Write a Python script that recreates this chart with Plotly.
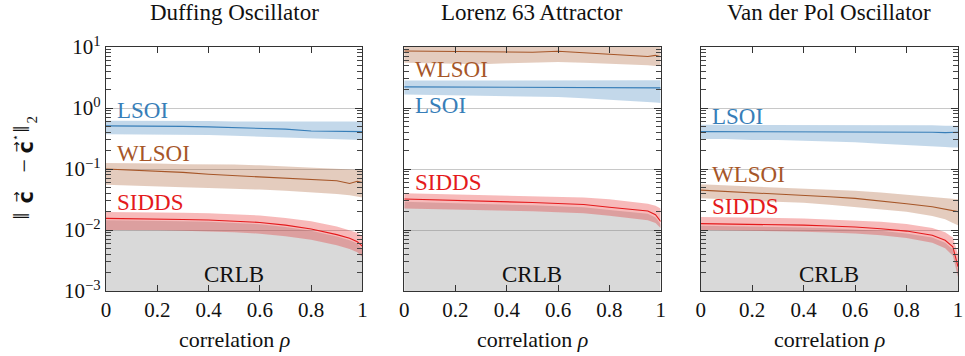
import plotly.graph_objects as go

rho = [0, 0.1, 0.2, 0.3, 0.4, 0.5, 0.6, 0.7, 0.8, 0.9, 0.95, 0.98, 1.0]

titles = ["Duffing Oscillator", "Lorenz 63 Attractor", "Van der Pol Oscillator"]
xtick_vals = [0, 0.2, 0.4, 0.6, 0.8, 1]
xtick_text = ["0", "0.2", "0.4", "0.6", "0.8", "1"]
ytick_vals = [1e-3, 1e-2, 1e-1, 1e0, 1e1]
ytick_text = ["10<sup>−3</sup>", "10<sup>−2</sup>", "10<sup>−1</sup>", "10<sup>0</sup>", "10<sup>1</sup>"]
yminor_vals = [m * 10.0 ** e for e in range(-3, 1) for m in range(2, 10)]

# Duffing
duf_lsoi = [0.51, 0.51, 0.50, 0.50, 0.49, 0.48, 0.47, 0.45, 0.42, 0.42, 0.42, 0.41, 0.41]
duf_lsoi_hi = [0.62, 0.62, 0.61, 0.61, 0.61, 0.60, 0.60, 0.60, 0.60, 0.60, 0.60, 0.60, 0.60]
duf_lsoi_lo = [0.37, 0.37, 0.37, 0.36, 0.36, 0.35, 0.34, 0.33, 0.32, 0.31, 0.30, 0.30, 0.30]
duf_wlsoi = [0.100, 0.096, 0.093, 0.088, 0.082, 0.078, 0.074, 0.070, 0.067, 0.064, 0.058, 0.063, 0.060]
duf_wlsoi_hi = [0.125, 0.125, 0.123, 0.120, 0.120, 0.118, 0.115, 0.110, 0.105, 0.100, 0.098, 0.097, 0.096]
duf_wlsoi_lo = [0.055, 0.053, 0.052, 0.050, 0.049, 0.048, 0.046, 0.044, 0.042, 0.039, 0.037, 0.035, 0.034]
duf_sidds = [0.0155, 0.0154, 0.0152, 0.0149, 0.0146, 0.0141, 0.0133, 0.0120, 0.0104, 0.0084, 0.0073, 0.0064, 0.0054]
duf_sidds_hi = [0.0198, 0.0197, 0.0195, 0.0192, 0.0188, 0.0182, 0.0173, 0.0158, 0.0139, 0.0114, 0.0100, 0.0090, 0.0080]
duf_sidds_lo = [0.0100, 0.0100, 0.0099, 0.0097, 0.0095, 0.0092, 0.0087, 0.0079, 0.0069, 0.0056, 0.0049, 0.0043, 0.0036]
duf_crlb = [0.0144, 0.0143, 0.0141, 0.0139, 0.0136, 0.0131, 0.0124, 0.0112, 0.0097, 0.0078, 0.0068, 0.0060, 0.0048]

# Lorenz 63
lor_lsoi = [2.22, 2.21, 2.20, 2.20, 2.19, 2.18, 2.17, 2.16, 2.15, 2.14, 2.14, 2.14, 2.14]
lor_lsoi_hi = [2.82, 2.82, 2.82, 2.82, 2.82, 2.82, 2.82, 2.82, 2.83, 2.84, 2.85, 2.85, 2.85]
lor_lsoi_lo = [1.66, 1.64, 1.62, 1.60, 1.58, 1.56, 1.52, 1.45, 1.38, 1.30, 1.25, 1.23, 1.21]
lor_wlsoi = [8.6, 8.5, 8.4, 8.3, 8.4, 8.2, 8.5, 8.1, 7.6, 7.3, 7.0, 7.3, 6.9]
lor_wlsoi_hi = [11.5, 11.6, 11.5, 11.4, 11.6, 11.5, 11.5, 11.3, 11.0, 10.8, 10.6, 10.6, 10.5]
lor_wlsoi_lo = [5.5, 5.4, 5.3, 5.2, 5.4, 5.6, 5.7, 5.5, 5.3, 5.2, 5.0, 4.9, 4.9]
lor_sidds = [0.0322, 0.0315, 0.0306, 0.0298, 0.0290, 0.0282, 0.0272, 0.0262, 0.0236, 0.0214, 0.0205, 0.0178, 0.0138]
lor_sidds_hi = [0.0400, 0.0392, 0.0384, 0.0376, 0.0368, 0.0360, 0.0350, 0.0340, 0.0320, 0.0290, 0.0270, 0.0250, 0.0225]
lor_sidds_lo = [0.0226, 0.0222, 0.0218, 0.0213, 0.0208, 0.0203, 0.0196, 0.0188, 0.0172, 0.0155, 0.0145, 0.0130, 0.0108]
lor_crlb = [0.0290, 0.0284, 0.0276, 0.0268, 0.0261, 0.0254, 0.0245, 0.0236, 0.0213, 0.0193, 0.0185, 0.0160, 0.0124]

# Van der Pol
vdp_lsoi = [0.41, 0.41, 0.41, 0.41, 0.405, 0.40, 0.40, 0.40, 0.40, 0.40, 0.395, 0.40, 0.40]
vdp_lsoi_hi = [0.53, 0.53, 0.53, 0.53, 0.53, 0.52, 0.52, 0.52, 0.52, 0.52, 0.51, 0.51, 0.51]
vdp_lsoi_lo = [0.31, 0.31, 0.30, 0.30, 0.29, 0.285, 0.275, 0.26, 0.25, 0.24, 0.23, 0.225, 0.225]
vdp_wlsoi = [0.045, 0.043, 0.041, 0.039, 0.037, 0.035, 0.033, 0.030, 0.027, 0.024, 0.022, 0.021, 0.020]
vdp_wlsoi_hi = [0.056, 0.054, 0.052, 0.050, 0.048, 0.046, 0.044, 0.041, 0.038, 0.035, 0.034, 0.033, 0.032]
vdp_wlsoi_lo = [0.033, 0.032, 0.030, 0.029, 0.028, 0.026, 0.024, 0.022, 0.020, 0.017, 0.015, 0.013, 0.012]
vdp_sidds = [0.0127, 0.0126, 0.0124, 0.0122, 0.0120, 0.0116, 0.0112, 0.0105, 0.0096, 0.0082, 0.0068, 0.0053, 0.0025]
vdp_sidds_hi = [0.0164, 0.0163, 0.0161, 0.0158, 0.0155, 0.0150, 0.0145, 0.0137, 0.0125, 0.0108, 0.0092, 0.0075, 0.0040]
vdp_sidds_lo = [0.0100, 0.0099, 0.0098, 0.0096, 0.0094, 0.0091, 0.0088, 0.0082, 0.0074, 0.0062, 0.0050, 0.0038, 0.0017]
vdp_crlb = [0.0117, 0.0116, 0.0114, 0.0112, 0.0110, 0.0107, 0.0103, 0.0097, 0.0088, 0.0075, 0.0062, 0.0048, 0.0022]

# label positions (log10 of y) per panel
label_pos = [
    {"LSOI": -0.044, "WLSOI": -0.753, "SIDDS": -1.544},
    {"LSOI": 0.044, "WLSOI": 0.632, "SIDDS": -1.22},
    {"LSOI": -0.137, "WLSOI": -1.088, "SIDDS": -1.621},
]

panels = [
    dict(lsoi=(duf_lsoi, duf_lsoi_lo, duf_lsoi_hi), wlsoi=(duf_wlsoi, duf_wlsoi_lo, duf_wlsoi_hi),
         sidds=(duf_sidds, duf_sidds_lo, duf_sidds_hi), crlb=duf_crlb),
    dict(lsoi=(lor_lsoi, lor_lsoi_lo, lor_lsoi_hi), wlsoi=(lor_wlsoi, lor_wlsoi_lo, lor_wlsoi_hi),
         sidds=(lor_sidds, lor_sidds_lo, lor_sidds_hi), crlb=lor_crlb),
    dict(lsoi=(vdp_lsoi, vdp_lsoi_lo, vdp_lsoi_hi), wlsoi=(vdp_wlsoi, vdp_wlsoi_lo, vdp_wlsoi_hi),
         sidds=(vdp_sidds, vdp_sidds_lo, vdp_sidds_hi), crlb=vdp_crlb),
]

colors = {"LSOI": "#377eb8", "WLSOI": "#a65628", "SIDDS": "#e41a1c"}
bands = {"LSOI": "rgba(55,126,184,0.3)", "WLSOI": "rgba(166,86,40,0.3)", "SIDDS": "rgba(228,26,28,0.3)"}

FONT = "Liberation Serif, Times New Roman, DejaVu Serif, serif"
SANS = "DejaVu Sans, sans-serif"
AXC = "#333333"
floor = [ytick_vals[0]] * len(rho)

W, H = 965, 356
ML, MR, MT, MB = 106, 2, 47, 65


def px2paper(px, py):
    return (px - ML) / (W - ML - MR), (H - MB - py) / (H - MT - MB)


fig = go.Figure()
domains = [[0.0, 0.301], [0.350, 0.651], [0.698, 1.0]]
annotations = []

for i, p in enumerate(panels):
    xa = "x" if i == 0 else f"x{i+1}"
    ya = "y" if i == 0 else f"y{i+1}"
    fig.add_trace(go.Scatter(x=rho, y=floor, mode="lines", line=dict(width=0), xaxis=xa, yaxis=ya,
                             showlegend=False, hoverinfo="skip"))
    fig.add_trace(go.Scatter(x=rho, y=p["crlb"], mode="lines", line=dict(width=0),
                             fill="tonexty", fillcolor="rgba(128,128,128,0.3)", xaxis=xa, yaxis=ya,
                             showlegend=False, hoverinfo="skip"))
    for key, name in [("lsoi", "LSOI"), ("wlsoi", "WLSOI"), ("sidds", "SIDDS")]:
        mean, lo, hi = p[key]
        fig.add_trace(go.Scatter(x=rho, y=lo, mode="lines", line=dict(width=0), xaxis=xa, yaxis=ya,
                                 showlegend=False, hoverinfo="skip"))
        fig.add_trace(go.Scatter(x=rho, y=hi, mode="lines", line=dict(width=0), fill="tonexty",
                                 fillcolor=bands[name], xaxis=xa, yaxis=ya, showlegend=False, hoverinfo="skip"))
        fig.add_trace(go.Scatter(x=rho, y=mean, mode="lines", line=dict(width=1.1, color=colors[name]),
                                 xaxis=xa, yaxis=ya, showlegend=False, name=name))
        annotations.append(dict(x=0.035, y=label_pos[i][name], xref=xa, yref=ya, text=name,
                                showarrow=False, xanchor="left", yanchor="middle",
                                font=dict(family=FONT, size=23, color=colors[name])))
    annotations.append(dict(x=0.5, y=-2.736, xref=xa, yref=ya, text="CRLB", showarrow=False,
                            xanchor="center", yanchor="middle", font=dict(family=FONT, size=23, color="#111")))
    annotations.append(dict(x=0.5, y=1.143, xref=f"{xa} domain", yref=f"{ya} domain", text=titles[i],
                            showarrow=False, xanchor="center", yanchor="middle",
                            font=dict(family=FONT, size=23, color="#111")))
    annotations.append(dict(x=0.5, y=-0.2, xref=f"{xa} domain", yref=f"{ya} domain", text="correlation <i>ρ</i>",
                            showarrow=False, xanchor="center", yanchor="middle",
                            font=dict(family=FONT, size=22, color="#111")))

    xkey = "xaxis" if i == 0 else f"xaxis{i+1}"
    ykey = "yaxis" if i == 0 else f"yaxis{i+1}"
    fig.layout[xkey] = dict(domain=domains[i], range=[0, 1], tickvals=xtick_vals, ticktext=xtick_text,
                            ticks="inside", ticklen=6, tickwidth=1.2, tickcolor=AXC, showline=True,
                            linecolor=AXC, linewidth=1.3, mirror="ticks", showgrid=False, zeroline=False,
                            anchor=ya, layer="above traces",
                            tickfont=dict(family=FONT, size=21, color="#111"))
    fig.layout[ykey] = dict(type="log", range=[-3, 1], tickvals=ytick_vals, ticktext=ytick_text,
                            ticks="inside", ticklen=7, tickwidth=1.2, tickcolor=AXC, showline=True,
                            linecolor=AXC, linewidth=1.3, mirror="ticks", showgrid=True, gridcolor="#c8c8c8",
                            gridwidth=1, zeroline=False, anchor=xa, showticklabels=(i == 0),
                            layer="above traces",
                            minor=dict(tickmode="array", tickvals=yminor_vals, ticks="inside", ticklen=5,
                                       tickcolor="#444", tickwidth=1, showgrid=False),
                            tickfont=dict(family=FONT, size=21, color="#111"))

# y-axis title built from pieces (rotated)
ylabel_parts = [
    ("‖", 21, 216, FONT, 24),
    ("<b>c</b>", 26, 197, SANS, 21),
    ("→", 15, 197, SANS, 13),
    ("−", 24, 165, FONT, 24),
    ("<b>c</b>", 26, 147, SANS, 21),
    ("→", 15, 147, SANS, 13),
    ("⋆", 15, 137.5, SANS, 11),
    ("‖", 21, 129, FONT, 24),
    ("2", 32, 119, FONT, 15),
]
for txt, px, py, fam, sz in ylabel_parts:
    xp, yp = px2paper(px, py)
    annotations.append(dict(x=xp, y=yp, xref="paper", yref="paper", textangle=-90, text=txt,
                            showarrow=False, xanchor="center", yanchor="middle",
                            font=dict(family=fam, size=sz, color="#111")))

fig.update_layout(width=W, height=H, margin=dict(l=ML, r=MR, t=MT, b=MB),
                  plot_bgcolor="white", paper_bgcolor="white", annotations=annotations, showlegend=False)

fig.write_html("out.html")
